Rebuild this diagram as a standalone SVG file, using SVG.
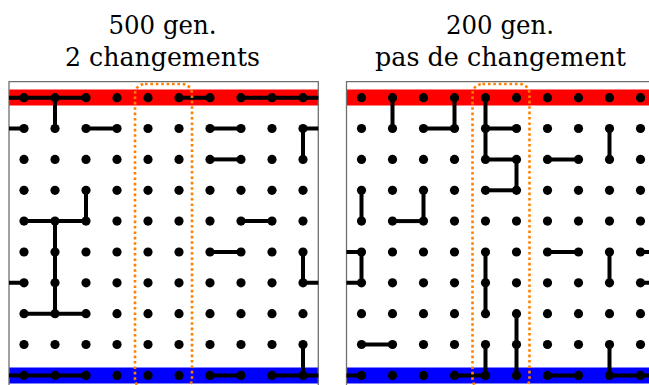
<svg xmlns="http://www.w3.org/2000/svg" width="649" height="385" viewBox="0 0 649 385">
<style>
.t{font-family:'DejaVu Serif',serif;font-size:26.5px;fill:#000}
.frame{fill:none;stroke:#707070;stroke-width:1.3}
.red{fill:#ff0000}
.blue{fill:#0000ff}
.c path{stroke:#000;stroke-width:4;fill:none}
.box{fill:none;stroke:#ff8000;stroke-width:2.6;stroke-dasharray:2.6 2.8}
</style>
<defs>
<circle id="d" r="4.6"/>
</defs>
<rect width="649" height="385" fill="#fff"/>
<g id="titles">
<text class="t" x="108.5" y="33.5" textLength="108" lengthAdjust="spacingAndGlyphs">500 gen.</text>
<text class="t" x="65" y="65.5" textLength="195" lengthAdjust="spacingAndGlyphs">2 changements</text>
<text class="t" x="446" y="33.5" textLength="108" lengthAdjust="spacingAndGlyphs">200 gen.</text>
<text class="t" x="375" y="65.5" textLength="251" lengthAdjust="spacingAndGlyphs">pas de changement</text>
</g>
<g id="panelL">
<rect class="red" x="9" y="89.5" width="309.3" height="16"/>
<rect class="blue" x="9" y="367.5" width="309.3" height="16"/>
<path class="frame" d="M9 392V81.7H318.3V392"/>
<g id="connectorsL" class="c">
<path d="M9 97.7H86M179 97.7H210M241 97.7H318.3"/>
<path d="M55 97.7V128.5"/>
<path d="M9 128.5H24M86 128.5H117M210 128.5H241M303 128.5H318.3"/>
<path d="M303 128.5V159.4"/>
<path d="M210 159.4H241"/>
<path d="M86 190.3V221.1"/>
<path d="M24 221.1H86M241 221.1H272"/>
<path d="M55 221.1V313.7"/>
<path d="M210 252H241"/>
<path d="M303 252V282.8"/>
<path d="M9 282.8H24M303 282.8H318.3"/>
<path d="M24 313.7H86"/>
<path d="M303 344.5V375.4"/>
<path d="M9 375.4H86M210 375.4H241M272 375.4H318.3"/>
</g>
<g id="nodesL">
<g id="L0"><use href="#d" x="24" y="97.7"/><use href="#d" x="55" y="97.7"/><use href="#d" x="86" y="97.7"/><use href="#d" x="117" y="97.7"/><use href="#d" x="148" y="97.7"/><use href="#d" x="179" y="97.7"/><use href="#d" x="210" y="97.7"/><use href="#d" x="241" y="97.7"/><use href="#d" x="272" y="97.7"/><use href="#d" x="303" y="97.7"/></g>
<g id="L1"><use href="#d" x="24" y="128.5"/><use href="#d" x="55" y="128.5"/><use href="#d" x="86" y="128.5"/><use href="#d" x="117" y="128.5"/><use href="#d" x="148" y="128.5"/><use href="#d" x="179" y="128.5"/><use href="#d" x="210" y="128.5"/><use href="#d" x="241" y="128.5"/><use href="#d" x="272" y="128.5"/><use href="#d" x="303" y="128.5"/></g>
<g id="L2"><use href="#d" x="24" y="159.4"/><use href="#d" x="55" y="159.4"/><use href="#d" x="86" y="159.4"/><use href="#d" x="117" y="159.4"/><use href="#d" x="148" y="159.4"/><use href="#d" x="179" y="159.4"/><use href="#d" x="210" y="159.4"/><use href="#d" x="241" y="159.4"/><use href="#d" x="272" y="159.4"/><use href="#d" x="303" y="159.4"/></g>
<g id="L3"><use href="#d" x="24" y="190.3"/><use href="#d" x="55" y="190.3"/><use href="#d" x="86" y="190.3"/><use href="#d" x="117" y="190.3"/><use href="#d" x="148" y="190.3"/><use href="#d" x="179" y="190.3"/><use href="#d" x="210" y="190.3"/><use href="#d" x="241" y="190.3"/><use href="#d" x="272" y="190.3"/><use href="#d" x="303" y="190.3"/></g>
<g id="L4"><use href="#d" x="24" y="221.1"/><use href="#d" x="55" y="221.1"/><use href="#d" x="86" y="221.1"/><use href="#d" x="117" y="221.1"/><use href="#d" x="148" y="221.1"/><use href="#d" x="179" y="221.1"/><use href="#d" x="210" y="221.1"/><use href="#d" x="241" y="221.1"/><use href="#d" x="272" y="221.1"/><use href="#d" x="303" y="221.1"/></g>
<g id="L5"><use href="#d" x="24" y="252"/><use href="#d" x="55" y="252"/><use href="#d" x="86" y="252"/><use href="#d" x="117" y="252"/><use href="#d" x="148" y="252"/><use href="#d" x="179" y="252"/><use href="#d" x="210" y="252"/><use href="#d" x="241" y="252"/><use href="#d" x="272" y="252"/><use href="#d" x="303" y="252"/></g>
<g id="L6"><use href="#d" x="24" y="282.8"/><use href="#d" x="55" y="282.8"/><use href="#d" x="86" y="282.8"/><use href="#d" x="117" y="282.8"/><use href="#d" x="148" y="282.8"/><use href="#d" x="179" y="282.8"/><use href="#d" x="210" y="282.8"/><use href="#d" x="241" y="282.8"/><use href="#d" x="272" y="282.8"/><use href="#d" x="303" y="282.8"/></g>
<g id="L7"><use href="#d" x="24" y="313.7"/><use href="#d" x="55" y="313.7"/><use href="#d" x="86" y="313.7"/><use href="#d" x="117" y="313.7"/><use href="#d" x="148" y="313.7"/><use href="#d" x="179" y="313.7"/><use href="#d" x="210" y="313.7"/><use href="#d" x="241" y="313.7"/><use href="#d" x="272" y="313.7"/><use href="#d" x="303" y="313.7"/></g>
<g id="L8"><use href="#d" x="24" y="344.5"/><use href="#d" x="55" y="344.5"/><use href="#d" x="86" y="344.5"/><use href="#d" x="117" y="344.5"/><use href="#d" x="148" y="344.5"/><use href="#d" x="179" y="344.5"/><use href="#d" x="210" y="344.5"/><use href="#d" x="241" y="344.5"/><use href="#d" x="272" y="344.5"/><use href="#d" x="303" y="344.5"/></g>
<g id="L9"><use href="#d" x="24" y="375.4"/><use href="#d" x="55" y="375.4"/><use href="#d" x="86" y="375.4"/><use href="#d" x="117" y="375.4"/><use href="#d" x="148" y="375.4"/><use href="#d" x="179" y="375.4"/><use href="#d" x="210" y="375.4"/><use href="#d" x="241" y="375.4"/><use href="#d" x="272" y="375.4"/><use href="#d" x="303" y="375.4"/></g>
</g>
<rect class="box" x="135" y="84" width="57" height="305" rx="10"/>
</g>
<g id="panelR" transform="translate(337.5,0)">
<rect class="red" x="9" y="89.5" width="309.3" height="16"/>
<rect class="blue" x="9" y="367.5" width="309.3" height="16"/>
<path class="frame" d="M9 392V81.7H318.3V392"/>
<g id="connectorsR" class="c">
<path d="M55 97.7V128.5M117 97.7V128.5M148 97.7V159.4"/>
<path d="M86 128.5H117M148 128.5H179"/>
<path d="M272 128.5V159.4"/>
<path d="M148 159.4H179M210 159.4H241"/>
<path d="M179 159.4V190.3"/>
<path d="M148 190.3H179"/>
<path d="M24 190.3V221.1M86 190.3V221.1"/>
<path d="M55 221.1H86"/>
<path d="M9 252H24M210 252H241M303 252H320"/>
<path d="M24 252V282.8M148 252V313.7M272 252V282.8"/>
<path d="M9 282.8H24M303 282.8H320"/>
<path d="M179 313.7V375.4"/>
<path d="M24 344.5H55"/>
<path d="M148 344.5V375.4M272 344.5V375.4"/>
<path d="M9 375.4H24M117 375.4H148M210 375.4H241M272 375.4H320"/>
</g>
<g id="nodesR">
<g id="R0"><use href="#d" x="24" y="97.7"/><use href="#d" x="55" y="97.7"/><use href="#d" x="86" y="97.7"/><use href="#d" x="117" y="97.7"/><use href="#d" x="148" y="97.7"/><use href="#d" x="179" y="97.7"/><use href="#d" x="210" y="97.7"/><use href="#d" x="241" y="97.7"/><use href="#d" x="272" y="97.7"/><use href="#d" x="303" y="97.7"/></g>
<g id="R1"><use href="#d" x="24" y="128.5"/><use href="#d" x="55" y="128.5"/><use href="#d" x="86" y="128.5"/><use href="#d" x="117" y="128.5"/><use href="#d" x="148" y="128.5"/><use href="#d" x="179" y="128.5"/><use href="#d" x="210" y="128.5"/><use href="#d" x="241" y="128.5"/><use href="#d" x="272" y="128.5"/><use href="#d" x="303" y="128.5"/></g>
<g id="R2"><use href="#d" x="24" y="159.4"/><use href="#d" x="55" y="159.4"/><use href="#d" x="86" y="159.4"/><use href="#d" x="117" y="159.4"/><use href="#d" x="148" y="159.4"/><use href="#d" x="179" y="159.4"/><use href="#d" x="210" y="159.4"/><use href="#d" x="241" y="159.4"/><use href="#d" x="272" y="159.4"/><use href="#d" x="303" y="159.4"/></g>
<g id="R3"><use href="#d" x="24" y="190.3"/><use href="#d" x="55" y="190.3"/><use href="#d" x="86" y="190.3"/><use href="#d" x="117" y="190.3"/><use href="#d" x="148" y="190.3"/><use href="#d" x="179" y="190.3"/><use href="#d" x="210" y="190.3"/><use href="#d" x="241" y="190.3"/><use href="#d" x="272" y="190.3"/><use href="#d" x="303" y="190.3"/></g>
<g id="R4"><use href="#d" x="24" y="221.1"/><use href="#d" x="55" y="221.1"/><use href="#d" x="86" y="221.1"/><use href="#d" x="117" y="221.1"/><use href="#d" x="148" y="221.1"/><use href="#d" x="179" y="221.1"/><use href="#d" x="210" y="221.1"/><use href="#d" x="241" y="221.1"/><use href="#d" x="272" y="221.1"/><use href="#d" x="303" y="221.1"/></g>
<g id="R5"><use href="#d" x="24" y="252"/><use href="#d" x="55" y="252"/><use href="#d" x="86" y="252"/><use href="#d" x="117" y="252"/><use href="#d" x="148" y="252"/><use href="#d" x="179" y="252"/><use href="#d" x="210" y="252"/><use href="#d" x="241" y="252"/><use href="#d" x="272" y="252"/><use href="#d" x="303" y="252"/></g>
<g id="R6"><use href="#d" x="24" y="282.8"/><use href="#d" x="55" y="282.8"/><use href="#d" x="86" y="282.8"/><use href="#d" x="117" y="282.8"/><use href="#d" x="148" y="282.8"/><use href="#d" x="179" y="282.8"/><use href="#d" x="210" y="282.8"/><use href="#d" x="241" y="282.8"/><use href="#d" x="272" y="282.8"/><use href="#d" x="303" y="282.8"/></g>
<g id="R7"><use href="#d" x="24" y="313.7"/><use href="#d" x="55" y="313.7"/><use href="#d" x="86" y="313.7"/><use href="#d" x="117" y="313.7"/><use href="#d" x="148" y="313.7"/><use href="#d" x="179" y="313.7"/><use href="#d" x="210" y="313.7"/><use href="#d" x="241" y="313.7"/><use href="#d" x="272" y="313.7"/><use href="#d" x="303" y="313.7"/></g>
<g id="R8"><use href="#d" x="24" y="344.5"/><use href="#d" x="55" y="344.5"/><use href="#d" x="86" y="344.5"/><use href="#d" x="117" y="344.5"/><use href="#d" x="148" y="344.5"/><use href="#d" x="179" y="344.5"/><use href="#d" x="210" y="344.5"/><use href="#d" x="241" y="344.5"/><use href="#d" x="272" y="344.5"/><use href="#d" x="303" y="344.5"/></g>
<g id="R9"><use href="#d" x="24" y="375.4"/><use href="#d" x="55" y="375.4"/><use href="#d" x="86" y="375.4"/><use href="#d" x="117" y="375.4"/><use href="#d" x="148" y="375.4"/><use href="#d" x="179" y="375.4"/><use href="#d" x="210" y="375.4"/><use href="#d" x="241" y="375.4"/><use href="#d" x="272" y="375.4"/><use href="#d" x="303" y="375.4"/></g>
</g>
<rect class="box" x="135" y="84" width="57" height="305" rx="10"/>
</g>
</svg>
